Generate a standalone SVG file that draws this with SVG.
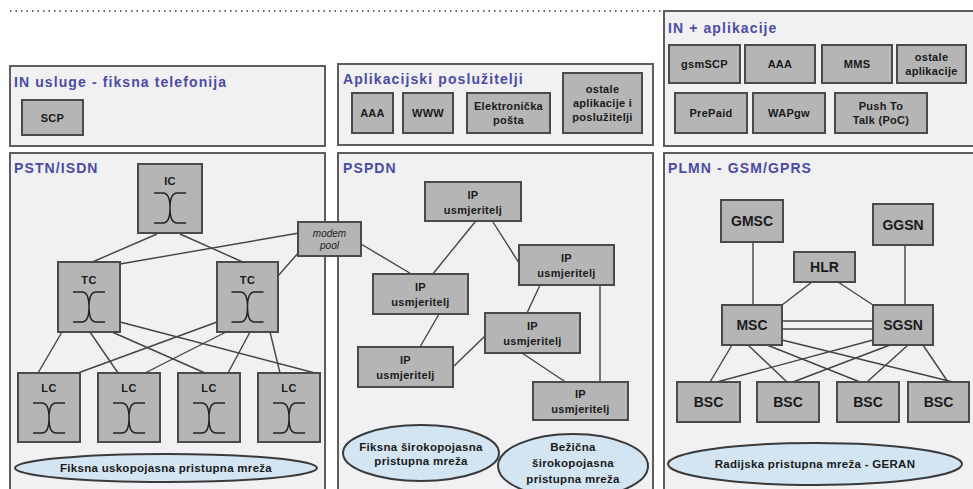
<svg xmlns="http://www.w3.org/2000/svg" xmlns:xlink="http://www.w3.org/1999/xlink" width="973" height="489" viewBox="0 0 973 489">
<style>
.panel{fill:#f1f1f3;stroke:#5e5e5e;stroke-width:2}
.node{fill:#b5b5b5;stroke:#4a4a4a;stroke-width:2}
.ell{fill:#d3e5f3;stroke:#3a3a3a;stroke-width:2}
.title{font-family:"Liberation Sans",Arial,sans-serif;font-weight:bold;font-size:14px;letter-spacing:1.1px;fill:#4b4ba6}
.t{font-family:"Liberation Sans",Arial,sans-serif;font-weight:bold;font-size:11px;letter-spacing:0.3px;fill:#1a1a1a;text-anchor:middle}
.te{font-family:"Liberation Sans",Arial,sans-serif;font-weight:bold;font-size:11.5px;letter-spacing:0.3px;fill:#1a1a1a;text-anchor:middle}
.tb{font-family:"Liberation Sans",Arial,sans-serif;font-weight:bold;font-size:14px;fill:#1a1a1a;text-anchor:middle}
.tm{font-family:"Liberation Sans",Arial,sans-serif;font-style:italic;font-size:10px;fill:#222;text-anchor:middle}
.conn line{stroke:#444;stroke-width:1.4}
.sw{fill:none;stroke:#222;stroke-width:1.5}
</style>
<defs>
<path id="sw" d="M-16,-15 H-7 Q0,-15 0,0 Q0,15 7,15 H16 M16,-15 H7 Q0,-15 0,0 Q0,15 -7,15 H-16"/>
</defs>
<rect width="973" height="489" fill="#ffffff"/>
<line x1="10" y1="11" x2="663" y2="11" stroke="#333" stroke-width="1.5" stroke-dasharray="1.5,4"/>

<!-- panels -->
<g id="panel-in-fiksna">
<rect class="panel" x="10" y="66" width="315" height="80"/>
<text class="title" x="14" y="87">IN usluge - fiksna telefonija</text>
</g>
<g id="panel-aplikacijski">
<rect class="panel" x="338" y="64" width="315" height="81"/>
<text class="title" x="343" y="84">Aplikacijski poslužitelji</text>
</g>
<g id="panel-in-aplikacije">
<rect class="panel" x="664" y="11" width="315" height="135"/>
<text class="title" x="668" y="33">IN + aplikacije</text>
</g>
<g id="panel-pstn">
<rect class="panel" x="10" y="153" width="315" height="345"/>
<text class="title" x="14" y="173">PSTN/ISDN</text>
</g>
<g id="panel-pspdn">
<rect class="panel" x="338" y="153" width="315" height="345"/>
<text class="title" x="343" y="173">PSPDN</text>
</g>
<g id="panel-plmn">
<rect class="panel" x="664" y="153" width="315" height="345"/>
<text class="title" x="668" y="173">PLMN - GSM/GPRS</text>
</g>

<!-- connectors -->
<g id="connectors" class="conn">
<line x1="157" y1="234" x2="90" y2="263"/>
<line x1="180" y1="234" x2="245" y2="263"/>
<line x1="299" y1="233" x2="120" y2="264"/>
<line x1="299" y1="252" x2="278" y2="276"/>
<line x1="361" y1="244" x2="413" y2="275"/>
<line x1="62" y1="332" x2="38" y2="373"/>
<line x1="90" y1="332" x2="118" y2="373"/>
<line x1="112" y1="332" x2="205" y2="373"/>
<line x1="120" y1="322" x2="315" y2="373"/>
<line x1="217" y1="322" x2="78" y2="373"/>
<line x1="226" y1="332" x2="145" y2="373"/>
<line x1="250" y1="332" x2="228" y2="373"/>
<line x1="270" y1="332" x2="280" y2="373"/>
<line x1="475" y1="222" x2="432" y2="275"/>
<line x1="493" y1="222" x2="519" y2="263"/>
<line x1="540" y1="285" x2="527" y2="313"/>
<line x1="600" y1="285" x2="600" y2="383"/>
<line x1="439" y1="314" x2="420" y2="347"/>
<line x1="485" y1="336" x2="454" y2="366"/>
<line x1="522" y1="353" x2="567" y2="383"/>
<line x1="753" y1="242" x2="753" y2="305"/>
<line x1="905" y1="245" x2="905" y2="305"/>
<line x1="812" y1="282" x2="782" y2="305"/>
<line x1="838" y1="282" x2="873" y2="305"/>
<line x1="782" y1="321" x2="873" y2="321"/>
<line x1="782" y1="329" x2="873" y2="329"/>
<line x1="732" y1="345" x2="710" y2="382"/>
<line x1="748" y1="345" x2="787" y2="382"/>
<line x1="767" y1="345" x2="860" y2="382"/>
<line x1="782" y1="340" x2="953" y2="382"/>
<line x1="873" y1="340" x2="717" y2="382"/>
<line x1="890" y1="345" x2="793" y2="382"/>
<line x1="908" y1="345" x2="867" y2="382"/>
<line x1="923" y1="345" x2="948" y2="382"/>
</g>

<!-- IN usluge -->
<g id="scp"><rect class="node" x="22" y="100" width="61" height="35"/><text class="t" x="52.5" y="122">SCP</text></g>

<!-- Aplikacijski posluzitelji -->
<g id="app-aaa"><rect class="node" x="352" y="93" width="41" height="40"/><text class="t" x="372.5" y="117">AAA</text></g>
<g id="app-www"><rect class="node" x="403" y="93" width="50" height="40"/><text class="t" x="428" y="117">WWW</text></g>
<g id="app-email"><rect class="node" x="467" y="93" width="83" height="40"/><text class="t" x="508.5" y="110">Elektronička</text><text class="t" x="508.5" y="124">pošta</text></g>
<g id="app-ostale"><rect class="node" x="563" y="73" width="79" height="60"/><text class="t" x="602.5" y="93">ostale</text><text class="t" x="602.5" y="107">aplikacije i</text><text class="t" x="602.5" y="121">poslužitelji</text></g>

<!-- IN + aplikacije -->
<g id="in-gsmscp"><rect class="node" x="669" y="45" width="71" height="38"/><text class="t" x="704.5" y="68">gsmSCP</text></g>
<g id="in-aaa"><rect class="node" x="745" y="45" width="70" height="38"/><text class="t" x="780" y="68">AAA</text></g>
<g id="in-mms"><rect class="node" x="822" y="45" width="70" height="38"/><text class="t" x="857" y="68">MMS</text></g>
<g id="in-ostale"><rect class="node" x="897" y="45" width="69" height="38"/><text class="t" x="931.5" y="61">ostale</text><text class="t" x="931.5" y="75">aplikacije</text></g>
<g id="in-prepaid"><rect class="node" x="675" y="93" width="72" height="40"/><text class="t" x="711" y="117">PrePaid</text></g>
<g id="in-wapgw"><rect class="node" x="753" y="93" width="72" height="40"/><text class="t" x="789" y="117">WAPgw</text></g>
<g id="in-poc"><rect class="node" x="835" y="93" width="92" height="40"/><text class="t" x="881" y="110">Push To</text><text class="t" x="881" y="124">Talk (PoC)</text></g>

<!-- PSTN/ISDN -->
<g id="ic"><rect class="node" x="138" y="164" width="64" height="69"/><text class="t" x="170" y="185">IC</text><use href="#sw" class="sw" x="170" y="208"/></g>
<g id="tc-left"><rect class="node" x="58" y="262" width="62" height="70"/><text class="t" x="89" y="284">TC</text><use href="#sw" class="sw" x="89" y="307"/></g>
<g id="tc-right"><rect class="node" x="217" y="262" width="61" height="70"/><text class="t" x="247.5" y="284">TC</text><use href="#sw" class="sw" x="247.5" y="307"/></g>
<g id="lc1"><rect class="node" x="18" y="373" width="62" height="69"/><text class="t" x="49" y="392">LC</text><use href="#sw" class="sw" x="49" y="418"/></g>
<g id="lc2"><rect class="node" x="98" y="373" width="62" height="69"/><text class="t" x="129" y="392">LC</text><use href="#sw" class="sw" x="129" y="418"/></g>
<g id="lc3"><rect class="node" x="178" y="373" width="62" height="69"/><text class="t" x="209" y="392">LC</text><use href="#sw" class="sw" x="209" y="418"/></g>
<g id="lc4"><rect class="node" x="258" y="373" width="62" height="69"/><text class="t" x="289" y="392">LC</text><use href="#sw" class="sw" x="289" y="418"/></g>
<g id="pstn-access"><ellipse class="ell" cx="166" cy="468" rx="151" ry="14"/><text class="te" x="166" y="472">Fiksna uskopojasna pristupna mreža</text></g>
<g id="modem-pool"><rect class="node" x="298" y="222" width="63" height="34"/><text class="tm" x="329.5" y="237">modem</text><text class="tm" x="329.5" y="249">pool</text></g>

<!-- PSPDN -->
<g id="ip1"><rect class="node" x="425" y="182" width="96" height="39"/><text class="t" x="473" y="199">IP</text><text class="t" x="473" y="214">usmjeritelj</text></g>
<g id="ip2"><rect class="node" x="519" y="245" width="95" height="40"/><text class="t" x="566.5" y="262">IP</text><text class="t" x="566.5" y="277">usmjeritelj</text></g>
<g id="ip3"><rect class="node" x="373" y="274" width="95" height="40"/><text class="t" x="420.5" y="291">IP</text><text class="t" x="420.5" y="306">usmjeritelj</text></g>
<g id="ip4"><rect class="node" x="485" y="313" width="95" height="40"/><text class="t" x="532.5" y="330">IP</text><text class="t" x="532.5" y="345">usmjeritelj</text></g>
<g id="ip5"><rect class="node" x="358" y="347" width="95" height="40"/><text class="t" x="405.5" y="364">IP</text><text class="t" x="405.5" y="379">usmjeritelj</text></g>
<g id="ip6"><rect class="node" x="533" y="382" width="95" height="38"/><text class="t" x="580.5" y="398">IP</text><text class="t" x="580.5" y="413">usmjeritelj</text></g>
<g id="pspdn-fixed"><ellipse class="ell" cx="421" cy="453" rx="78" ry="28"/><text class="te" x="421" y="451">Fiksna širokopojasna</text><text class="te" x="421" y="465">pristupna mreža</text></g>
<g id="pspdn-wireless"><ellipse class="ell" cx="573" cy="466" rx="75" ry="32"/><text class="te" x="573" y="451">Bežična</text><text class="te" x="573" y="467">širokopojasna</text><text class="te" x="573" y="483">pristupna mreža</text></g>

<!-- PLMN -->
<g id="gmsc"><rect class="node" x="721" y="200" width="62" height="42"/><text class="tb" x="752" y="226">GMSC</text></g>
<g id="ggsn"><rect class="node" x="873" y="204" width="60" height="41"/><text class="tb" x="903" y="230">GGSN</text></g>
<g id="hlr"><rect class="node" x="794" y="252" width="61" height="30"/><text class="tb" x="824.5" y="272">HLR</text></g>
<g id="msc"><rect class="node" x="722" y="305" width="60" height="40"/><text class="tb" x="752" y="330">MSC</text></g>
<g id="sgsn"><rect class="node" x="873" y="305" width="60" height="40"/><text class="tb" x="903" y="330">SGSN</text></g>
<g id="bsc1"><rect class="node" x="677" y="382" width="63" height="40"/><text class="tb" x="708.5" y="407">BSC</text></g>
<g id="bsc2"><rect class="node" x="757" y="382" width="62" height="40"/><text class="tb" x="788" y="407">BSC</text></g>
<g id="bsc3"><rect class="node" x="837" y="382" width="62" height="40"/><text class="tb" x="868" y="407">BSC</text></g>
<g id="bsc4"><rect class="node" x="908" y="382" width="61" height="40"/><text class="tb" x="938.5" y="407">BSC</text></g>
<g id="geran"><ellipse class="ell" cx="815" cy="464" rx="147" ry="21"/><text class="te" x="815" y="468">Radijska pristupna mreža - GERAN</text></g>
</svg>
